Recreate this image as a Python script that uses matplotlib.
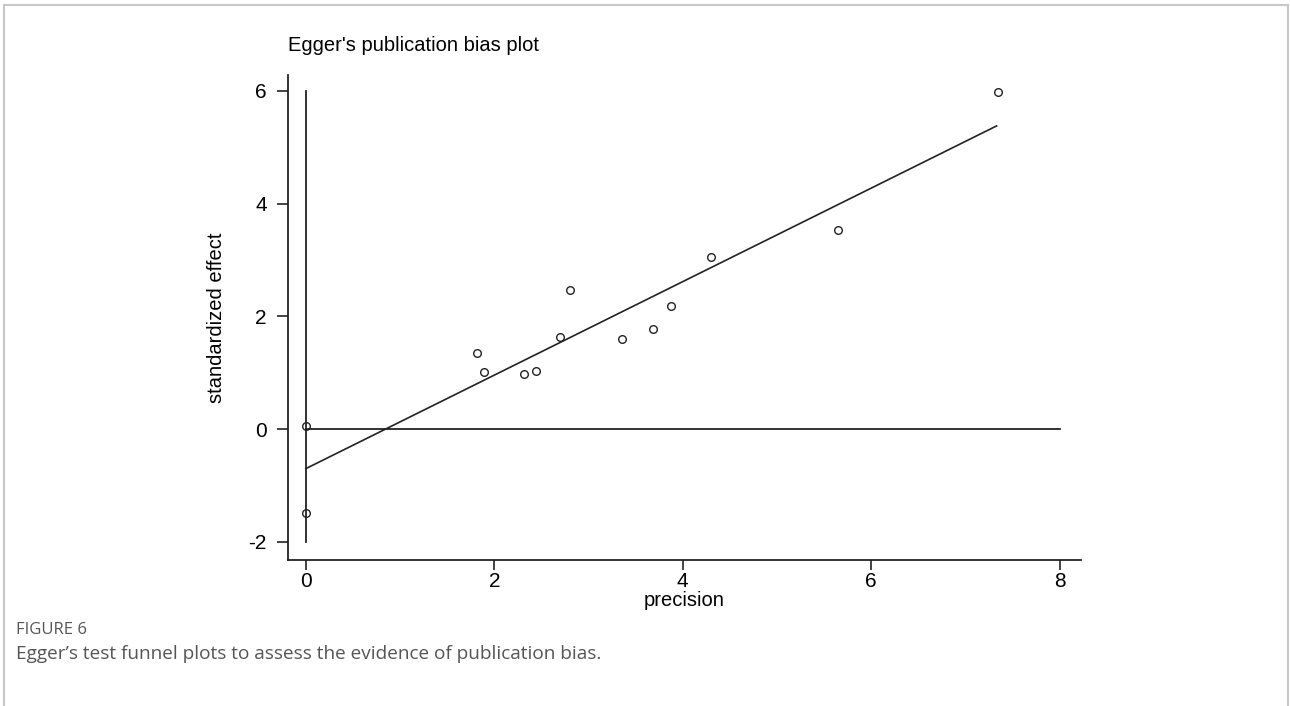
import matplotlib.pyplot as plt
from matplotlib.lines import Line2D

# precision (1/SE) and standardized effect for each study
precision = [7.35, 5.65, 4.30, 3.88, 3.68, 3.36, 2.80, 2.70, 2.44, 2.31, 1.89, 1.82, 0.0, 0.0]
std_effect = [5.97, 3.53, 3.05, 2.19, 1.78, 1.59, 2.46, 1.64, 1.03, 0.98, 1.01, 1.35, 0.06, -1.48]

# Egger regression line
intercept = -0.70
slope = 0.829
x_end = 7.33

xticks = [0, 2, 4, 6, 8]
yticks = [-2, 0, 2, 4, 6]

plt.rcParams['font.family'] = ['Liberation Sans', 'DejaVu Sans']
plt.rcParams['axes.unicode_minus'] = False

fig = plt.figure(figsize=(12.9, 7.06), dpi=100)
ax = fig.add_axes([0.2229, 0.2068, 0.8380 - 0.2229, 0.8938 - 0.2068])

ax.plot([0, 0], [-2, 6], color='#222222', lw=1.3)
ax.plot([0, 8], [0, 0], color='#222222', lw=1.3)
ax.plot([0, x_end], [intercept, intercept + slope * x_end], color='#222222', lw=1.2)
ax.plot(precision, std_effect, 'o', mfc='none', mec='#222222', ms=5.5, mew=1.0)

ax.set_xlim(-0.194, 8.226)
ax.set_ylim(-2.32, 6.28)
ax.set_xticks(xticks)
ax.set_yticks(yticks)
ax.spines['top'].set_visible(False)
ax.spines['right'].set_visible(False)
for s in ['left', 'bottom']:
    ax.spines[s].set_linewidth(1.3)
    ax.spines[s].set_color('#222222')
ax.tick_params(axis='y', length=8, width=1.2, pad=7, labelsize=15, color='#222222')
ax.tick_params(axis='x', length=7.5, width=1.2, pad=1, labelsize=15, color='#222222')

ax.set_xlabel('precision', fontsize=14.5, labelpad=0)
ax.set_ylabel('standardized effect', fontsize=14.5, labelpad=16)
ax.set_title("Egger's publication bias plot", fontsize=14.5, loc='left', pad=17)

# frame around the figure panel
border = '#c8c8c8'
fig.add_artist(Line2D([4/1290, 4/1290], [0, 1 - 5/706], color=border, lw=1.5))
fig.add_artist(Line2D([4/1290, 1288/1290], [1 - 5/706, 1 - 5/706], color=border, lw=1.5))
fig.add_artist(Line2D([1288/1290, 1288/1290], [0, 1 - 5/706], color=border, lw=1.5))

fig.text(16/1290, 1 - 630/706, 'FIGURE 6', fontsize=12, color='#555555',
         family=['Open Sans', 'DejaVu Sans'], va='center', ha='left')
fig.text(16/1290, 1 - 654/706, 'Egger\u2019s test funnel plots to assess the evidence of publication bias.',
         fontsize=13.7, color='#555555', family=['Open Sans', 'DejaVu Sans'],
         va='center', ha='left')

fig.savefig('out.png', dpi=100)
